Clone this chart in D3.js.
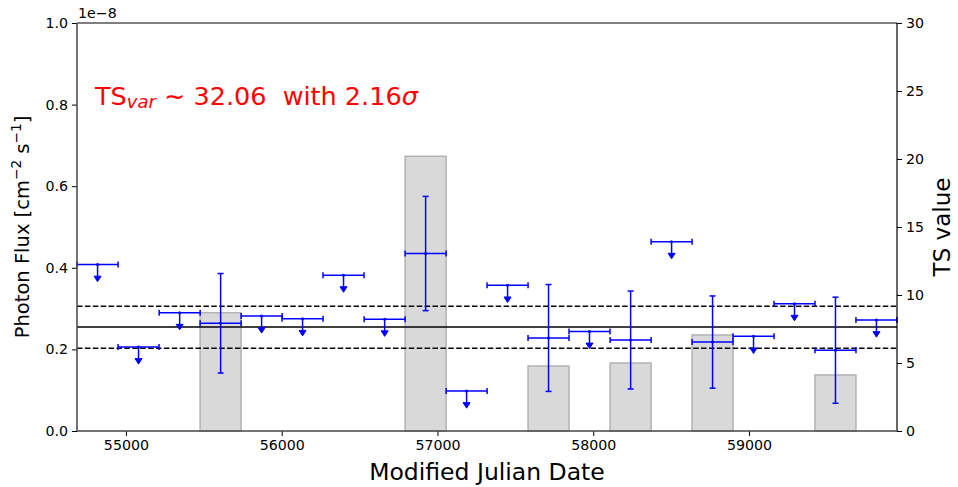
<!DOCTYPE html>
<meta charset="utf-8">
<html>
<head>
<script src="https://d3js.org/d3.v7.min.js"></script>
<style>
  body { margin: 0; background: white; }
  svg text { font-family: "DejaVu Sans", sans-serif; }
</style>
</head>
<body>
<svg id="chart"></svg>
<script>
// bin centres (MJD) and half width of each time bin
var mjd = [54818, 55081, 55345, 55608, 55871, 56134, 56397, 56661, 56924, 57187,
           57450, 57713, 57976, 58240, 58503, 58766, 59029, 59292, 59555, 59818];
var halfBin = 131.6;
// flux in units of 1e-8 ph cm-2 s-1 (upper limit value where not detected)
var flux = [0.408, 0.206, 0.290, 0.264, 0.282, 0.275, 0.382, 0.274, 0.435, 0.098,
            0.357, 0.228, 0.244, 0.223, 0.464, 0.218, 0.232, 0.312, 0.198, 0.272];
var fluxErr = [0, 0, 0, 0.122, 0, 0, 0, 0, 0.140, 0,
               0, 0.131, 0, 0.120, 0, 0.113, 0, 0, 0.130, 0];
var detected = [0, 0, 0, 1, 0, 0, 0, 0, 1, 0, 0, 1, 0, 1, 0, 1, 0, 0, 1, 0];
var tsValue = [0, 0, 0, 8.7, 0, 0, 0, 0, 20.2, 0, 0, 4.78, 0, 5.0, 0, 7.06, 0, 0, 4.12, 0];
var meanFlux = 0.255, meanLow = 0.203, meanHigh = 0.306;
var ulArrow = 0.042;
var xTicks = [55000, 56000, 57000, 58000, 59000];
var yTicks = [0, 0.2, 0.4, 0.6, 0.8, 1.0];
var tsTicks = [0, 5, 10, 15, 20, 25, 30];

var W = 958, H = 487;
var margin = {top: 23, right: 61, bottom: 56, left: 77},
    width = W - margin.left - margin.right,
    height = H - margin.top - margin.bottom;

var svg = d3.select("#chart").attr("width", W).attr("height", H);
var g = svg.append("g").attr("transform", "translate(" + margin.left + "," + margin.top + ")");

var x = d3.scaleLinear().domain([54686, 59950]).range([0, width]);
var y = d3.scaleLinear().domain([0, 1.0]).range([height, 0]);
var yTs = d3.scaleLinear().domain([0, 30]).range([height, 0]);

var data = mjd.map(function(m, i) {
  return {t: m, f: flux[i], e: fluxErr[i], det: detected[i], ts: tsValue[i]};
});

// TS bars
g.selectAll("rect.ts")
  .data(data.filter(function(d) { return d.det; }))
  .enter().append("rect")
    .attr("class", "ts")
    .attr("x", function(d) { return x(d.t - halfBin); })
    .attr("width", function(d) { return x(d.t + halfBin) - x(d.t - halfBin); })
    .attr("y", function(d) { return yTs(d.ts); })
    .attr("height", function(d) { return height - yTs(d.ts); })
    .attr("fill", "#d9d9d9")
    .attr("stroke", "#b3b3b3")
    .attr("stroke-width", 1.5);

// mean flux and band
[[meanFlux, null], [meanLow, "5.5,2.4"], [meanHigh, "5.5,2.4"]].forEach(function(l) {
  g.append("line")
    .attr("x1", 0).attr("x2", width)
    .attr("y1", y(l[0])).attr("y2", y(l[0]))
    .attr("stroke", "black").attr("stroke-width", 1.5)
    .attr("stroke-dasharray", l[1]);
});

var blue = "#0000ff", cap = 3;
var pts = g.selectAll("g.pt").data(data).enter().append("g").attr("class", "pt");

// horizontal bin error bars with caps
pts.append("line")
  .attr("x1", function(d) { return x(d.t - halfBin); })
  .attr("x2", function(d) { return x(d.t + halfBin); })
  .attr("y1", function(d) { return y(d.f); })
  .attr("y2", function(d) { return y(d.f); })
  .attr("stroke", blue).attr("stroke-width", 1.5);
[-1, 1].forEach(function(s) {
  pts.append("line")
    .attr("x1", function(d) { return x(d.t + s * halfBin); })
    .attr("x2", function(d) { return x(d.t + s * halfBin); })
    .attr("y1", function(d) { return y(d.f) - cap; })
    .attr("y2", function(d) { return y(d.f) + cap; })
    .attr("stroke", blue).attr("stroke-width", 1.5);
});

// detections: vertical error bars
var det = pts.filter(function(d) { return d.det; });
det.append("line")
  .attr("x1", function(d) { return x(d.t); })
  .attr("x2", function(d) { return x(d.t); })
  .attr("y1", function(d) { return y(d.f + d.e); })
  .attr("y2", function(d) { return y(d.f - d.e); })
  .attr("stroke", blue).attr("stroke-width", 1.5);
[1, -1].forEach(function(s) {
  det.append("line")
    .attr("x1", function(d) { return x(d.t) - cap; })
    .attr("x2", function(d) { return x(d.t) + cap; })
    .attr("y1", function(d) { return y(d.f + s * d.e); })
    .attr("y2", function(d) { return y(d.f + s * d.e); })
    .attr("stroke", blue).attr("stroke-width", 1.5);
});

// upper limits: arrows
var ul = pts.filter(function(d) { return !d.det; });
ul.append("line")
  .attr("x1", function(d) { return x(d.t); })
  .attr("x2", function(d) { return x(d.t); })
  .attr("y1", function(d) { return y(d.f); })
  .attr("y2", function(d) { return y(d.f - ulArrow) - 4; })
  .attr("stroke", blue).attr("stroke-width", 1.5);
ul.append("path")
  .attr("d", function(d) {
    var cx = x(d.t), ty = y(d.f - ulArrow);
    return "M" + (cx - 3.5) + "," + (ty - 5.5) + "L" + (cx + 3.5) + "," + (ty - 5.5) + "L" + cx + "," + ty + "Z";
  })
  .attr("fill", blue).attr("stroke", blue).attr("stroke-width", 1);

// centre markers
pts.append("circle")
  .attr("cx", function(d) { return x(d.t); })
  .attr("cy", function(d) { return y(d.f); })
  .attr("r", 1.5).attr("fill", blue);

// axes
var fs = "14.2px";
var xAxis = g.append("g").attr("transform", "translate(0," + height + ")")
  .call(d3.axisBottom(x).tickValues(xTicks).tickFormat(d3.format("d")).tickSize(5).tickPadding(4));
var yAxis = g.append("g")
  .call(d3.axisLeft(y).tickValues(yTicks).tickFormat(d3.format(".1f")).tickSize(5).tickPadding(4));
var rAxis = g.append("g").attr("transform", "translate(" + width + ",0)")
  .call(d3.axisRight(yTs).tickValues(tsTicks).tickSize(5).tickPadding(4));
[xAxis, yAxis, rAxis].forEach(function(a) {
  a.select(".domain").remove();
  a.selectAll("text").style("font-size", fs).attr("fill", "black");
  a.selectAll("line").attr("stroke", "black").attr("stroke-width", 1);
});

// frame
g.append("line").attr("x1", 0).attr("x2", width).attr("y1", 0).attr("y2", 0).attr("stroke", "black").attr("stroke-width", 1.2);
g.append("line").attr("x1", width).attr("x2", width).attr("y1", 0).attr("y2", height).attr("stroke", "black").attr("stroke-width", 1.2);
g.append("line").attr("x1", 0).attr("x2", width).attr("y1", height).attr("y2", height).attr("stroke", "#444").attr("stroke-width", 1.5);
g.append("line").attr("x1", 0).attr("x2", 0).attr("y1", 0).attr("y2", height).attr("stroke", "#444").attr("stroke-width", 1.5);

// offset text
svg.append("text").attr("x", margin.left + 1).attr("y", 18).style("font-size", fs).text("1e\u22128");

// labels
svg.append("text").attr("x", margin.left + width / 2).attr("y", 480)
  .attr("text-anchor", "middle").style("font-size", "23.5px").text("Modified Julian Date");

var yl = svg.append("text").attr("transform", "translate(29," + (margin.top + height / 2) + ") rotate(-90)")
  .attr("text-anchor", "middle").style("font-size", "19.5px");
yl.append("tspan").text("Photon Flux [cm");
yl.append("tspan").attr("dy", -8).style("font-size", "13.7px").text("\u22122");
yl.append("tspan").attr("dy", 8).text(" s");
yl.append("tspan").attr("dy", -8).style("font-size", "13.7px").text("\u22121");
yl.append("tspan").attr("dy", 8).text("]");

svg.append("text").attr("transform", "translate(950," + (margin.top + height / 2) + ") rotate(-90)")
  .attr("text-anchor", "middle").style("font-size", "23px").text("TS value");

// annotation
var ann = svg.append("text").attr("x", 95).attr("y", 105).attr("fill", "red")
  .style("font-size", "25.5px").style("white-space", "pre");
ann.append("tspan").text("TS");
ann.append("tspan").attr("dy", 3).style("font-size", "18px").style("font-style", "italic").text("var");
ann.append("tspan").attr("dy", -3).text(" \u223c 32.06  with 2.16");
ann.append("tspan").style("font-style", "italic").text("\u03c3");
</script>
</body>
</html>
